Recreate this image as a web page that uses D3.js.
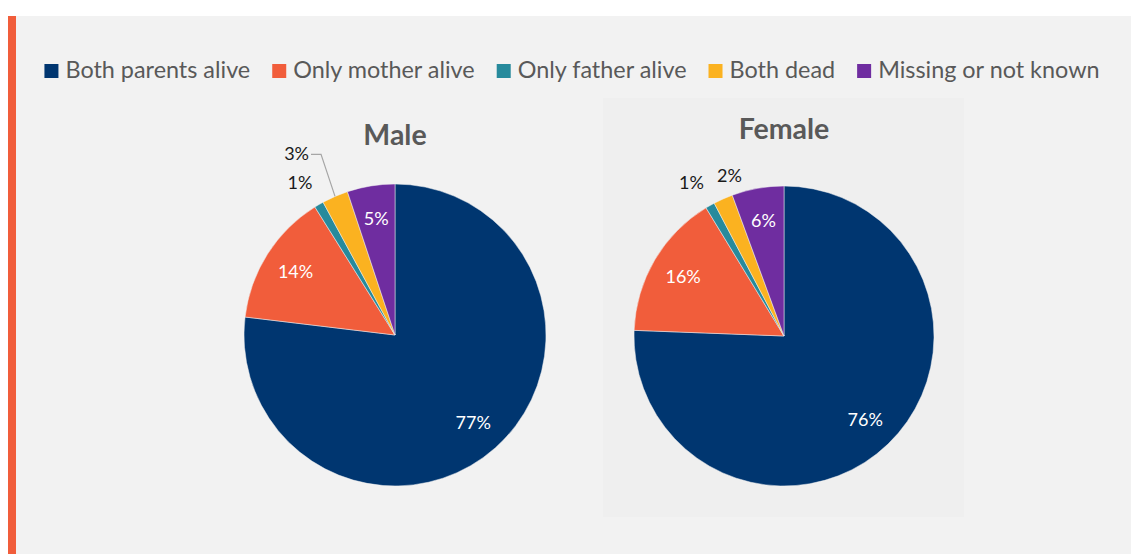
<!DOCTYPE html>
<html>
<head>
<meta charset="utf-8">
<script src="https://cdn.jsdelivr.net/npm/d3@7/dist/d3.min.js"></script>
<style>
  html, body { margin: 0; padding: 0; background: #ffffff; }
  svg { display: block; }
  text { font-family: "Lato", "Open Sans", sans-serif; }
</style>
</head>
<body>
<svg id="chart" width="1131" height="554"></svg>
<script>
const categories = ["Both parents alive", "Only mother alive", "Only father alive", "Both dead", "Missing or not known"];
const colors = ["#003670", "#f15d3b", "#278a9c", "#fbb220", "#6f2da0"];
const maleValues = [76.9, 14.2, 1.0, 2.8, 5.1];
const femaleValues = [75.6, 15.7, 1.0, 2.1, 5.6];
const panelTitles = ["Male", "Female"];

const W = 1131, H = 554;
const svg = d3.select("#chart");

// backgrounds
svg.append("rect").attr("x", 16).attr("y", 16).attr("width", W - 16).attr("height", H - 16).attr("fill", "#f2f2f2");
svg.append("rect").attr("x", 8).attr("y", 16).attr("width", 8).attr("height", H - 16).attr("fill", "#f15d3b");
svg.append("rect").attr("x", 603).attr("y", 98).attr("width", 361).attr("height", 419).attr("fill", "#efefef");

// legend
const legend = svg.append("g");
const legendFont = 23.4;
let lx = 0;
categories.forEach((c, i) => {
  const g = legend.append("g");
  g.append("rect").attr("x", 0).attr("y", -14).attr("width", 14).attr("height", 14).attr("fill", colors[i]);
  const t = g.append("text").attr("x", 21).attr("y", 0).attr("font-size", legendFont).attr("fill", "#595959").text(c);
  const w = 21 + t.node().getComputedTextLength();
  g.attr("transform", `translate(${lx},0)`);
  lx += w + 22;
});
const legendWidth = lx - 22;
legend.attr("transform", `translate(${572 - legendWidth / 2},78)`);

const pie = d3.pie().sort(null).value(d => d);
const color = d3.scaleOrdinal().domain(categories).range(colors);

function drawPie(values, cx, cy, r, title, titleY, isMale) {
  const g = svg.append("g").attr("transform", `translate(${cx},${cy})`);
  const arcs = pie(values);
  const arc = d3.arc().innerRadius(0).outerRadius(r);
  g.selectAll("path").data(arcs).join("path")
    .attr("d", arc)
    .attr("fill", (d, i) => color(categories[i]))
    .attr("stroke", "#f2f2f2").attr("stroke-width", 0.5);

  svg.append("text").attr("x", cx).attr("y", titleY).attr("text-anchor", "middle")
    .attr("font-size", 28.5).attr("font-weight", "bold").attr("fill", "#595959").text(title);

  const inside = d3.arc().innerRadius(r * 0.78).outerRadius(r * 0.78);
  arcs.forEach((d, i) => {
    const label = Math.round(d.data) + "%";
    const mid = (d.startAngle + d.endAngle) / 2;
    if (d.data >= 4) {
      const [x, y] = inside.centroid(d);
      g.append("text").attr("x", x).attr("y", y + 6).attr("text-anchor", "middle")
        .attr("font-size", 18).attr("fill", "#ffffff").text(label);
    } else if (isMale && i === 3) {
      // pushed out with a leader line
      const px = Math.sin(mid) * r, py = -Math.cos(mid) * r;
      const lxp = px - 14, lyp = py - 42;
      g.append("polyline")
        .attr("points", `${px},${py} ${lxp},${lyp} ${lxp - 10},${lyp}`)
        .attr("fill", "none").attr("stroke", "#a6a6a6").attr("stroke-width", 1.2);
      g.append("text").attr("x", lxp - 12).attr("y", lyp + 6).attr("text-anchor", "end")
        .attr("font-size", 18).attr("fill", "#1a1a1a").text(label);
    } else {
      let a = mid, rr = r * 1.19;
      if (!isMale && i === 3) { a = mid + 0.09; rr = r * 1.13; }
      if (i === 2) { a = mid - 0.03; }
      const x = Math.sin(a) * rr, y = -Math.cos(a) * rr;
      g.append("text").attr("x", x).attr("y", y + 6).attr("text-anchor", "middle")
        .attr("font-size", 18).attr("fill", "#1a1a1a").text(label);
    }
  });
}

drawPie(maleValues, 395, 335, 151, panelTitles[0], 145, true);
drawPie(femaleValues, 784, 336, 150, panelTitles[1], 139, false);
</script>
</body>
</html>
